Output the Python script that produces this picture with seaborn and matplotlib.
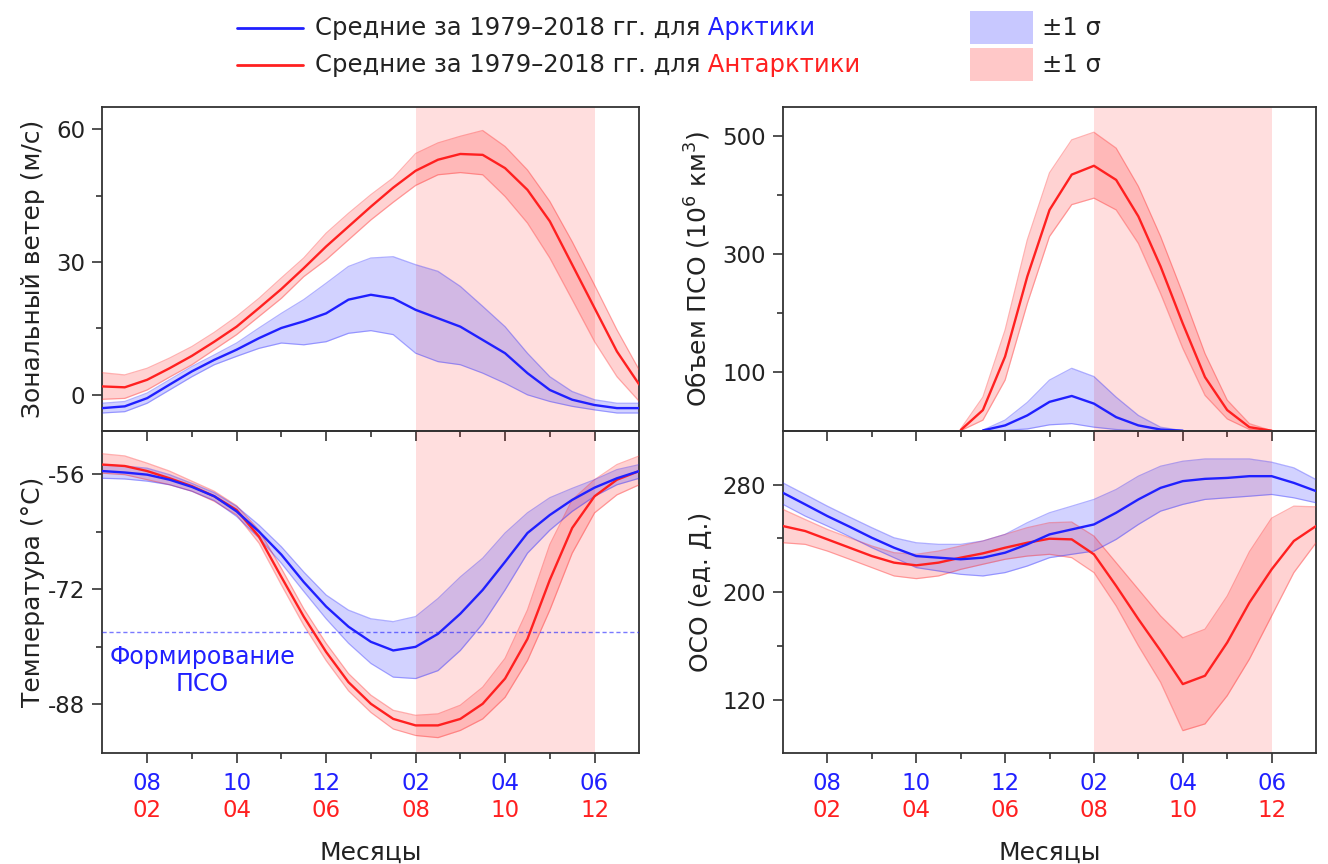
import numpy as np
import pandas as pd
import matplotlib
matplotlib.use("Agg")
import matplotlib.pyplot as plt
import seaborn as sns
from matplotlib.lines import Line2D
from matplotlib.patches import Rectangle
from matplotlib.ticker import FixedLocator

# ---------------- data ----------------
# month index on the Arctic calendar (7 = July ... 19 = next July)
months = [7, 7.5, 8, 8.5, 9, 9.5, 10, 10.5, 11, 11.5, 12, 12.5, 13,
          13.5, 14, 14.5, 15, 15.5, 16, 16.5, 17, 17.5, 18, 18.5, 19]

major_ticks = [8, 10, 12, 14, 16, 18]
minor_ticks = [9, 11, 13, 15, 17]
arctic_labels = ["08", "10", "12", "02", "04", "06"]
antarctic_labels = ["02", "04", "06", "08", "10", "12"]
shade_span = [14, 18]
psc_threshold = [-78]

# zonal wind (m/s)
wind_arc_mean = [-3.0, -2.6, -0.75, 2.3, 5.3, 7.9, 10.2, 12.8, 15.1, 16.6, 18.4, 21.5, 22.6,
                 21.8, 19.2, 17.3, 15.4, 12.4, 9.4, 4.9, 1.1, -1.1, -2.3, -3.0, -3.0]
wind_arc_lo = [-4.1, -3.8, -1.9, 1.1, 4.1, 6.8, 8.7, 10.5, 11.7, 11.3, 12.0, 13.9, 14.5,
               13.6, 9.4, 7.5, 6.8, 4.9, 2.6, 0.0, -1.5, -2.6, -3.4, -4.1, -4.1]
wind_arc_hi = [-1.9, -1.5, 0.4, 3.4, 6.4, 9.0, 11.7, 15.1, 18.4, 21.5, 25.2, 29.0, 30.9,
               31.2, 29.4, 27.9, 24.5, 20.0, 15.4, 9.4, 4.1, 0.75, -1.1, -1.9, -1.9]
wind_ant_mean = [1.9, 1.7, 3.4, 6.0, 8.8, 12.0, 15.4, 19.6, 23.9, 28.6, 33.5, 38.0, 42.5,
                 46.8, 50.6, 53.1, 54.4, 54.2, 51.2, 46.3, 39.2, 29.4, 19.6, 9.8, 2.3]
wind_ant_lo = [-1.0, -0.8, 1.1, 4.0, 6.8, 10.2, 13.6, 17.7, 21.8, 26.7, 30.5, 35.0, 39.5,
               43.5, 47.3, 49.7, 50.2, 49.7, 44.8, 38.8, 30.9, 21.5, 12.0, 4.1, -1.5]
wind_ant_hi = [5.0, 4.5, 6.0, 8.3, 10.9, 14.1, 17.7, 21.8, 26.4, 30.9, 36.5, 41.0, 45.2,
               49.0, 54.5, 56.9, 58.4, 59.7, 56.1, 50.8, 43.7, 34.6, 24.8, 14.7, 5.6]

# temperature (deg C)
temp_arc_mean = [-55.6, -55.8, -56.1, -56.8, -57.8, -59.1, -61.2, -64.0, -67.2, -71.0, -74.4, -77.2, -79.3,
                 -80.5, -80.0, -78.2, -75.4, -72.1, -68.2, -64.2, -61.7, -59.6, -57.9, -56.6, -55.6]
temp_arc_lo = [-56.6, -56.7, -57.0, -57.5, -58.4, -59.7, -61.9, -64.9, -68.4, -72.3, -76.1, -79.5, -82.3,
               -84.2, -84.4, -83.3, -80.5, -76.8, -72.1, -67.0, -63.8, -61.2, -59.1, -57.5, -56.6]
temp_arc_hi = [-54.7, -54.9, -55.2, -56.1, -57.3, -58.6, -60.5, -63.1, -66.1, -69.6, -72.8, -74.9, -76.1,
               -76.5, -75.8, -73.3, -70.3, -67.7, -64.2, -61.4, -59.3, -58.0, -56.8, -55.4, -54.7]
temp_ant_mean = [-54.7, -54.9, -55.6, -56.6, -57.7, -59.1, -61.0, -64.7, -70.3, -75.8, -80.7, -84.9, -87.9,
                 -90.0, -90.9, -90.9, -90.0, -87.9, -84.4, -78.9, -70.7, -63.5, -59.1, -56.8, -55.6]
temp_ant_lo = [-55.9, -56.1, -56.8, -57.5, -58.4, -59.8, -61.7, -65.6, -71.4, -77.0, -81.9, -86.1, -89.1,
               -91.4, -92.3, -92.6, -91.6, -90.0, -87.0, -81.9, -74.9, -67.0, -61.4, -58.9, -57.5]
temp_ant_hi = [-53.2, -53.5, -54.5, -55.6, -57.0, -58.4, -60.4, -63.8, -69.1, -74.7, -79.5, -83.7, -86.7,
               -88.8, -89.5, -89.3, -88.1, -85.6, -81.6, -74.9, -65.8, -59.6, -56.8, -54.7, -53.5]

# PSC volume (10^6 km^3)
nan = float("nan")
psc_arc_mean = [nan, nan, nan, nan, nan, nan, nan, nan, nan, 0.5, 9, 26, 49,
                59, 46, 23, 9, 2, 0, nan, nan, nan, nan, nan, nan]
psc_arc_lo = [nan, nan, nan, nan, nan, nan, nan, nan, nan, 0, 0.5, 3, 10,
              12, 6, 2, 0, 0, 0, nan, nan, nan, nan, nan, nan]
psc_arc_hi = [nan, nan, nan, nan, nan, nan, nan, nan, nan, 1, 18, 48, 86,
              106, 92, 57, 26, 6, 0, nan, nan, nan, nan, nan, nan]
psc_ant_mean = [nan, nan, nan, nan, nan, nan, nan, nan, 1, 35, 126, 262, 375,
                435, 450, 426, 364, 279, 182, 91, 35, 6, 0, nan, nan]
psc_ant_lo = [nan, nan, nan, nan, nan, nan, nan, nan, 0, 18, 86, 216, 330,
              384, 395, 375, 318, 233, 140, 60, 20, 2, 0, nan, nan]
psc_ant_hi = [nan, nan, nan, nan, nan, nan, nan, nan, 3, 57, 171, 324, 438,
              494, 507, 480, 415, 330, 233, 131, 52, 12, 0, nan, nan]

# total column ozone (DU)
tco_arc_mean = [273.8, 265.2, 256.5, 248.6, 240.4, 233.0, 226.8, 225.6, 224.4, 225.6, 229.3, 235.5, 242.9,
                246.6, 250.3, 259.0, 268.9, 277.5, 282.5, 284.2, 284.9, 286.2, 286.2, 281.2, 275.1]
tco_arc_lo = [265.2, 256.5, 249.1, 241.2, 233.0, 225.6, 218.2, 215.7, 213.2, 212.0, 214.5, 219.4, 225.6,
              228.1, 230.5, 239.2, 250.3, 260.2, 265.2, 268.9, 270.1, 271.3, 272.6, 270.1, 266.4]
tco_arc_hi = [281.2, 272.6, 263.9, 255.8, 247.9, 240.4, 236.7, 235.5, 235.5, 238.0, 242.9, 251.6, 259.0,
              263.9, 268.9, 276.3, 286.2, 293.6, 297.3, 299.0, 299.0, 299.0, 296.6, 292.4, 283.7]
tco_ant_mean = [249.1, 245.4, 239.2, 233.0, 226.8, 221.9, 219.9, 221.9, 225.6, 228.8, 233.0, 236.7, 239.7,
                239.2, 228.1, 204.6, 179.9, 156.4, 131.6, 137.8, 162.5, 192.2, 216.9, 238.0, 249.1]
tco_ant_lo = [236.7, 235.5, 230.5, 224.4, 218.2, 212.0, 210.0, 212.0, 216.9, 220.7, 224.4, 226.8, 228.1,
              225.6, 214.5, 189.7, 160.1, 132.9, 97.0, 102.0, 123.0, 150.2, 182.3, 214.5, 236.7]
tco_ant_hi = [261.5, 254.0, 246.6, 240.4, 234.3, 229.3, 228.1, 230.5, 234.3, 238.0, 242.9, 247.9, 251.6,
              252.1, 241.7, 221.9, 202.1, 182.3, 166.0, 172.4, 197.0, 230.0, 255.0, 263.9, 263.4]

# ---------------- style ----------------
sns.set_theme(style="ticks")
plt.rcParams["font.family"] = ["DejaVu Sans"]
plt.rcParams["mathtext.fontset"] = "dejavusans"
plt.rcParams["axes.unicode_minus"] = False

BLUE = "#2020ff"
RED = "#ff2020"
DARK = "#333333"
TXT = "#222222"
TICK_FS = 16.5
LAB_FS = 18

fig = plt.figure(figsize=(13.28, 8.64), dpi=100)
ax_w = fig.add_axes([0.0771, 0.5015, 0.4043, 0.3741])
ax_t = fig.add_axes([0.0771, 0.1279, 0.4043, 0.3736])
ax_p = fig.add_axes([0.5896, 0.5015, 0.4014, 0.3741])
ax_o = fig.add_axes([0.5896, 0.1279, 0.4014, 0.3736])


def draw_series(ax, mean, lo, hi, color):
    ax.fill_between(months, lo, hi, color=color, alpha=0.2, lw=0, zorder=2)
    ax.plot(months, lo, color=color, alpha=0.35, lw=0.9, zorder=3)
    ax.plot(months, hi, color=color, alpha=0.35, lw=0.9, zorder=3)
    df = pd.DataFrame({"m": months, "v": mean}).dropna()
    sns.lineplot(data=df, x="m", y="v", ax=ax, color=color, lw=1.7, zorder=4)


def style_axis(ax, ylim, yticks, yminor, bottom):
    ax.axvspan(shade_span[0], shade_span[1], color="#ff0000", alpha=0.13, lw=0, zorder=1)
    ax.set_xlim(7, 19)
    ax.set_ylim(*ylim)
    ax.set_yticks(yticks)
    ax.yaxis.set_minor_locator(FixedLocator(yminor))
    for s in ax.spines.values():
        s.set_visible(True)
        s.set_color(DARK)
        s.set_linewidth(1.3)
    ax.tick_params(axis="y", which="major", direction="out", length=7.5, width=1.2,
                   color=DARK, labelsize=TICK_FS, labelcolor=TXT, pad=5)
    ax.tick_params(axis="y", which="minor", direction="out", length=4.5, width=1.2, color=DARK)
    ax.set_xlabel("")
    ax.set_ylabel("")
    if bottom:
        ax.set_xticks(major_ticks, labels=arctic_labels)
        ax.xaxis.set_minor_locator(FixedLocator(minor_ticks))
        ax.tick_params(axis="x", which="major", direction="out", length=7.5, width=1.2,
                       color=DARK, labelsize=TICK_FS, labelcolor=BLUE, pad=6)
        ax.tick_params(axis="x", which="minor", direction="out", length=4, width=1.2, color=DARK)
        top = ax.secondary_xaxis("top")
        top.set_xticks(major_ticks)
        top.xaxis.set_minor_locator(FixedLocator(minor_ticks))
        top.tick_params(which="major", direction="in", length=7.5, width=1.2, color=DARK, labeltop=False)
        top.tick_params(which="minor", direction="in", length=4, width=1.2, color=DARK)
        top.spines["top"].set_color(DARK)
        top.spines["top"].set_linewidth(1.3)
        sec = ax.secondary_xaxis("bottom")
        sec.set_xticks(major_ticks, labels=antarctic_labels)
        sec.tick_params(length=0, pad=33, labelsize=TICK_FS, labelcolor=RED)
        sec.spines["bottom"].set_visible(False)
        ax.set_xlabel("Месяцы", fontsize=LAB_FS, color=TXT, labelpad=33)
    else:
        ax.set_xticks([])
        ax.tick_params(axis="x", which="both", bottom=False, labelbottom=False)


# top-left: zonal wind
draw_series(ax_w, wind_ant_mean, wind_ant_lo, wind_ant_hi, RED)
draw_series(ax_w, wind_arc_mean, wind_arc_lo, wind_arc_hi, BLUE)
style_axis(ax_w, (-8.1, 64.9), [0, 30, 60], [15, 45], False)
ax_w.set_ylabel("Зональный ветер (м/с)", fontsize=LAB_FS, color=TXT)

# bottom-left: temperature
draw_series(ax_t, temp_ant_mean, temp_ant_lo, temp_ant_hi, RED)
draw_series(ax_t, temp_arc_mean, temp_arc_lo, temp_arc_hi, BLUE)
style_axis(ax_t, (-94.8, -50.0), [-88, -72, -56], [-80, -64], True)
ax_t.axhline(psc_threshold[0], color=BLUE, ls=(0, (3, 2)), lw=1.0, alpha=0.6, zorder=3)
ax_t.text(9.23, -83.3, "Формирование\nПСО", color=BLUE, fontsize=17, ha="center",
          va="center", linespacing=1.15, zorder=5)
ax_t.set_ylabel("Температура (°C)", fontsize=LAB_FS, color=TXT)

# top-right: PSC volume
draw_series(ax_p, psc_ant_mean, psc_ant_lo, psc_ant_hi, RED)
draw_series(ax_p, psc_arc_mean, psc_arc_lo, psc_arc_hi, BLUE)
style_axis(ax_p, (0, 549), [100, 300, 500], [200, 400], False)
ax_p.set_ylabel("Объем ПСО (10$^{6}$ км$^{3}$)", fontsize=LAB_FS, color=TXT)

# bottom-right: total ozone
draw_series(ax_o, tco_ant_mean, tco_ant_lo, tco_ant_hi, RED)
draw_series(ax_o, tco_arc_mean, tco_arc_lo, tco_arc_hi, BLUE)
style_axis(ax_o, (80, 320), [120, 200, 280], [160, 240], True)
ax_o.set_ylabel("ОСО (ед. Д.)", fontsize=LAB_FS, color=TXT)

for ax in (ax_w, ax_t):
    ax.yaxis.set_label_coords(-0.107, 0.5)
for ax in (ax_p, ax_o):
    ax.yaxis.set_label_coords(-0.131, 0.5)

# ---------------- legend (figure level) ----------------
LEG_FS = 17.5
rows = [(0.9676, BLUE, "Арктики", "#c8c8ff"), (0.9248, RED, "Антарктики", "#ffc8c8")]
fig.canvas.draw()
renderer = fig.canvas.get_renderer()
for y, col, word, patch_col in rows:
    fig.add_artist(Line2D([0.1785, 0.2282], [y, y], color=col, lw=2.0, transform=fig.transFigure))
    t = fig.text(0.2372, y, "Средние за 1979–2018 гг. для", fontsize=LEG_FS, color=TXT,
                 va="center", ha="left")
    bb = t.get_window_extent(renderer)
    fig.text(bb.x1 / fig.bbox.width, y, " " + word, fontsize=LEG_FS, color=col,
             va="center", ha="left")
    fig.add_artist(Rectangle((0.7304, y - 0.0191), 0.0474, 0.0382, color=patch_col,
                             transform=fig.transFigure, lw=0))
    fig.text(0.7846, y, "±1 σ", fontsize=LEG_FS, color=TXT, va="center", ha="left")

fig.savefig("out.png", dpi=100)
